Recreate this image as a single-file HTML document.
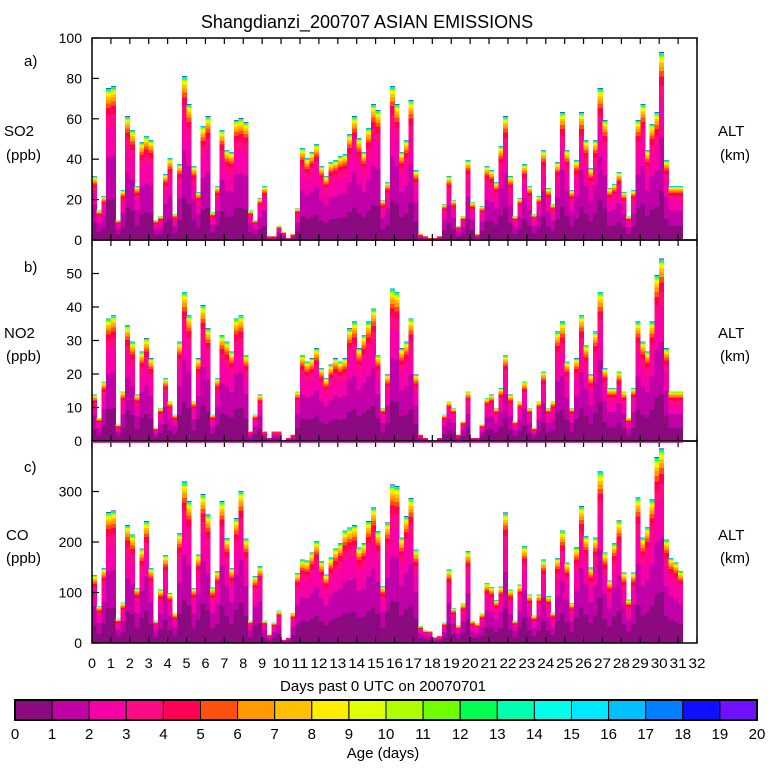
<!DOCTYPE html>
<html><head><meta charset="utf-8"><style>
html,body{margin:0;padding:0;background:#fff;}
svg{display:block;font-family:"Liberation Sans",sans-serif;}
</style></head><body>
<svg id="chart" width="768" height="768" viewBox="0 0 768 768">
<text x="367" y="28" text-anchor="middle" font-size="18">Shangdianzi_200707 ASIAN EMISSIONS</text>
<g id="panels"></g>
<g id="labels" font-size="15">
<text x="24" y="66">a)</text>
<text x="4" y="136">SO2</text>
<text x="6" y="160">(ppb)</text>
<text x="24" y="272">b)</text>
<text x="4" y="338">NO2</text>
<text x="6" y="361">(ppb)</text>
<text x="24" y="472">c)</text>
<text x="6" y="540">CO</text>
<text x="6" y="563">(ppb)</text>
<text x="718" y="136">ALT</text>
<text x="720" y="160">(km)</text>
<text x="718" y="338">ALT</text>
<text x="720" y="361">(km)</text>
<text x="718" y="540">ALT</text>
<text x="720" y="563">(km)</text>
<text x="383" y="691" text-anchor="middle">Days past 0 UTC on 20070701</text>
<text x="383" y="758" text-anchor="middle">Age (days)</text>
</g>
<g id="xticks" font-size="14"></g>
<g id="colorbar"></g>
</svg>
<script>
const ageColors = ["#8c0a80","#c200a8","#f800a8","#ff0a85","#ff0055","#ff5010","#ff9a00","#ffc000","#ffee00","#e0ff00","#b0ff00","#70ff00","#00ff50","#00ffb0","#00ffe8","#00e8ff","#00c0ff","#0080ff","#1010ff","#7010ff"];
const ageProfile = [0.26,0.28,0.19,0.08,0.05,0.03,0.025,0.02,0.015,0.01,0.007,0.005,0.004,0.003,0.003,0.002,0.002,0.002,0.001,0.001];
const ageTicks = [0,1,2,3,4,5,6,7,8,9,10,11,12,13,14,15,16,17,18,19,20];
const dayTicks = [0,1,2,3,4,5,6,7,8,9,10,11,12,13,14,15,16,17,18,19,20,21,22,23,24,25,26,27,28,29,30,31,32];
const so2 = [32,15,22,76, 77,10,25,62, 55,27,49,52, 50,10,12,33, 41,13,38,82, 68,37,24,57, 62,14,27,55, 45,44,60,61,
 59,15,10,21, 27,2,2,7, 4,1,3,16, 46,41,44,48, 37,32,39,40, 42,43,53,62, 51,44,56,68, 65,20,29,77,
 68,44,50,70, 35,3,2,1, 1,2,18,32, 20,7,12,40, 19,3,17,37, 35,29,47,62, 32,12,21,38, 27,13,22,45,
 26,18,39,64, 45,25,40,64, 50,36,50,76, 60,26,28,34, 24,12,25,60, 68,45,58,64, 94,40,27,27, 27];
const no2 = [14,7,18,37, 38,5,15,35, 30,14,27,31, 25,4,10,19, 12,8,30,45, 38,12,25,41, 34,8,19,32, 30,27,37,38,
 26,3,8,14, 3,1,3,3, 0,1,2,15, 26,24,25,28, 22,19,23,25, 24,25,34,36, 28,32,36,40, 26,10,20,46,
 45,28,30,37, 20,2,1,0, 0,1,8,12, 10,2,6,15, 1,1,5,13, 14,10,16,26, 14,6,12,18, 10,4,12,21,
 10,12,33,36, 24,10,25,38, 29,20,33,45, 22,16,16,21, 15,7,16,36, 30,27,36,50, 55,28,15,15, 15];
const co = [136,74,150,262, 265,49,81,236, 217,110,189,244, 150,45,107,176, 100,59,220,323, 284,110,177,298, 257,111,144,284, 210,150,250,304,
 209,45,134,154, 45,17,41,65, 7,11,60,140, 167,165,181,204, 164,137,171,189, 200,225,231,236, 191,200,244,271, 224,114,241,317,
 314,211,254,290, 187,34,25,24, 12,15,41,147, 70,35,79,184, 44,39,59,120, 112,86,113,261, 107,45,117,194, 97,55,97,167,
 94,61,170,225, 161,80,192,274, 214,151,211,343, 181,125,200,245, 141,87,141,291, 211,232,287,372, 389,207,170,161, 144];
const so2Ticks = [0,20,40,60,80,100];
const no2Ticks = [0,10,20,30,40,50];
const coTicks = [0,100,200,300];

const NS = "http://www.w3.org/2000/svg";
const X0 = 92, X1 = 697, DAYMAX = 32, STEP = 0.25;
function xScale(d){ return X0 + (X1 - X0) * d / DAYMAX; }
function mk(tag, attrs, parent){ const e = document.createElementNS(NS, tag); for (const k in attrs) e.setAttribute(k, attrs[k]); parent.appendChild(e); return e; }

const panelsG = document.getElementById("panels");
function drawPanel(name, values, ticks, ymax, top, bottom){
  const g = mk("g", {}, panelsG);
  
  
  const yS = v => bottom - (bottom - top) * v / ymax;
  const bars = mk("g", {"shape-rendering":"crispEdges"}, g);
  values.forEach((v, i) => {
    const xa = xScale(i * STEP), xb = xScale((i + 1) * STEP);
    const bg = mk("g", {}, bars);
    
    
    let cum = 0;
    for (let k = 0; k < ageColors.length; k++) {
      const lo = cum, hi = cum + v * ageProfile[k];
      cum = hi;
      const y1 = yS(hi), y0 = yS(lo);
      if (y0 - y1 < 0.05) continue;
      mk("rect", {x: xa, y: y1, width: xb - xa + 0.3, height: y0 - y1, fill: ageColors[k]}, bg);
    }
  });
  const frame = mk("rect", {x: X0, y: top, width: X1 - X0, height: bottom - top, fill: "none", stroke: "#000", "stroke-width": 1.5}, g);
  
  
  dayTicks.forEach(d => {
    const x = xScale(d);
    mk("line", {x1: x, x2: x, y1: top, y2: top + 6, stroke: "#000", "stroke-width": 1.2}, g);
    mk("line", {x1: x, x2: x, y1: bottom, y2: bottom - 6, stroke: "#000", "stroke-width": 1.2}, g);
  });
  ticks.forEach(t => {
    const y = yS(t);
    mk("line", {x1: X0, x2: X0 + 7, y1: y, y2: y, stroke: "#000", "stroke-width": 1.2}, g);
    const tx = mk("text", {x: 82, y: y + 5, "text-anchor": "end", "font-size": 14}, g);
    tx.textContent = t;
    
    
  });
}
drawPanel("so2", so2, so2Ticks, 100, 38, 240);
drawPanel("no2", no2, no2Ticks, 60, 240, 441);
drawPanel("co", co, coTicks, 400, 441, 643);
mk("line", {x1: X0, x2: xScale(31.25), y1: 442, y2: 442, stroke: "#c0008a", "stroke-width": 1.5}, panelsG);

const xt = document.getElementById("xticks");
dayTicks.forEach(d => {
  const t = mk("text", {x: xScale(d), y: 668, "text-anchor": "middle", "textLength": d >= 10 ? 17 : 8, "lengthAdjust": "spacingAndGlyphs"}, xt);
  t.textContent = d;
  
  
});

const cb = document.getElementById("colorbar");
const CB0 = 15, CB1 = 757, CBT = 700, CBB = 720;
const cw = (CB1 - CB0) / ageColors.length;
ageColors.forEach((c, i) => {
  const r = mk("rect", {x: CB0 + i * cw, y: CBT, width: cw, height: CBB - CBT, fill: c, stroke: "#000", "stroke-width": 1}, cb);
  
  
});
mk("rect", {x: CB0, y: CBT, width: CB1 - CB0, height: CBB - CBT, fill: "none", stroke: "#000", "stroke-width": 2}, cb);
ageTicks.forEach((a, i) => {
  const t = mk("text", {x: CB0 + i * cw, y: 739, "text-anchor": "middle", "font-size": 15}, cb);
  t.textContent = a;
  
  
});
</script>
</body></html>
